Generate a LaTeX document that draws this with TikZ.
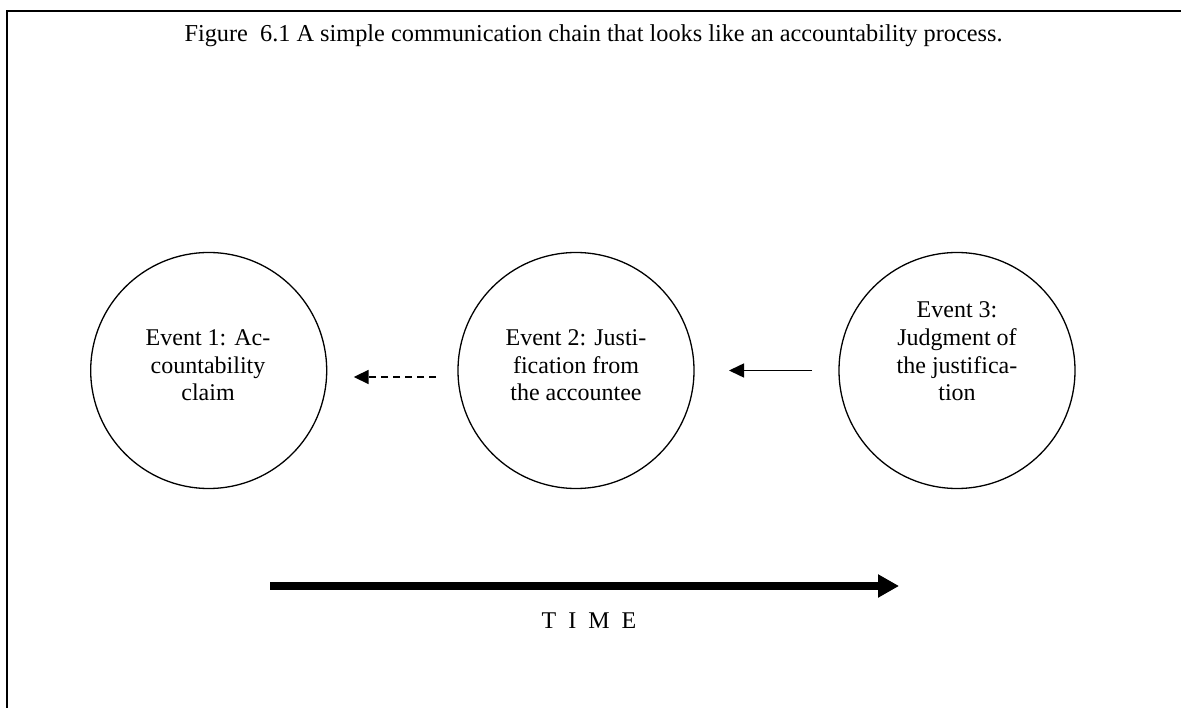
\documentclass[tikz,border=0pt]{standalone}
\usepackage{fontspec}
\setmainfont{Liberation Serif}
\usetikzlibrary{arrows.meta}
\begin{document}
\begin{tikzpicture}[x=1pt,y=-1pt,
  event/.style={circle,draw,line width=1.3pt,minimum size=236pt,inner sep=0pt,outer sep=0pt},
  evtext/.style={align=center,inner sep=0pt,anchor=north,font=\fontsize{24}{27.8}\selectfont},
  dasharrow/.style={line width=1.8pt,dash pattern=on 7pt off 5pt,-{Triangle[length=15pt,width=14pt]}},
  solidarrow/.style={line width=1.5pt,-{Triangle[length=15pt,width=14pt]}},
  timearrow/.style={line width=8pt,-{Triangle[length=21pt,width=22pt]}},
  frameline/.style={line width=2.4pt}]
\useasboundingbox (0,0) rectangle (1181,708);
% frame edges
\draw[frameline] (7,708) -- (7,11) -- (1181,11);
% title
\node[anchor=base,inner sep=0pt,font=\fontsize{24.3}{28}\selectfont] (title) at (593.5,41.5)
  {Figure\ \ 6.1 A simple communication chain that looks like an accountability process.};
% events
\node[event] (c1) at (208.7,370.5) {};
\node[event] (c2) at (576,370.5) {};
\node[event] (c3) at (957,370.5) {};
\node[evtext] (t1) at (208,329.3) {Event 1: Ac-\\countability\\claim};
\node[evtext] (t2) at (576,329.3) {Event 2: Justi-\\fication from\\the accountee};
\node[evtext] (t3) at (957,301.5) {Event 3:\\Judgment of\\the justifica-\\tion};
% connectors between events
\draw[dasharrow,shorten <=22pt,shorten >=27pt] ([yshift=-6.5pt]c2.west) -- ([yshift=-6.5pt]c1.east);
\draw[solidarrow,shorten <=27pt,shorten >=35pt] (c3.west) -- (c2.east);
% time axis
\coordinate (ts) at (270,586);
\coordinate (te) at (899,586);
\draw[timearrow] (ts) -- (te);
\node[anchor=base,inner sep=0pt,font=\fontsize{24}{28}\selectfont] (time) at (589,628.3) {T\ \ I\ \ M\ \ E};
\end{tikzpicture}
\end{document}
